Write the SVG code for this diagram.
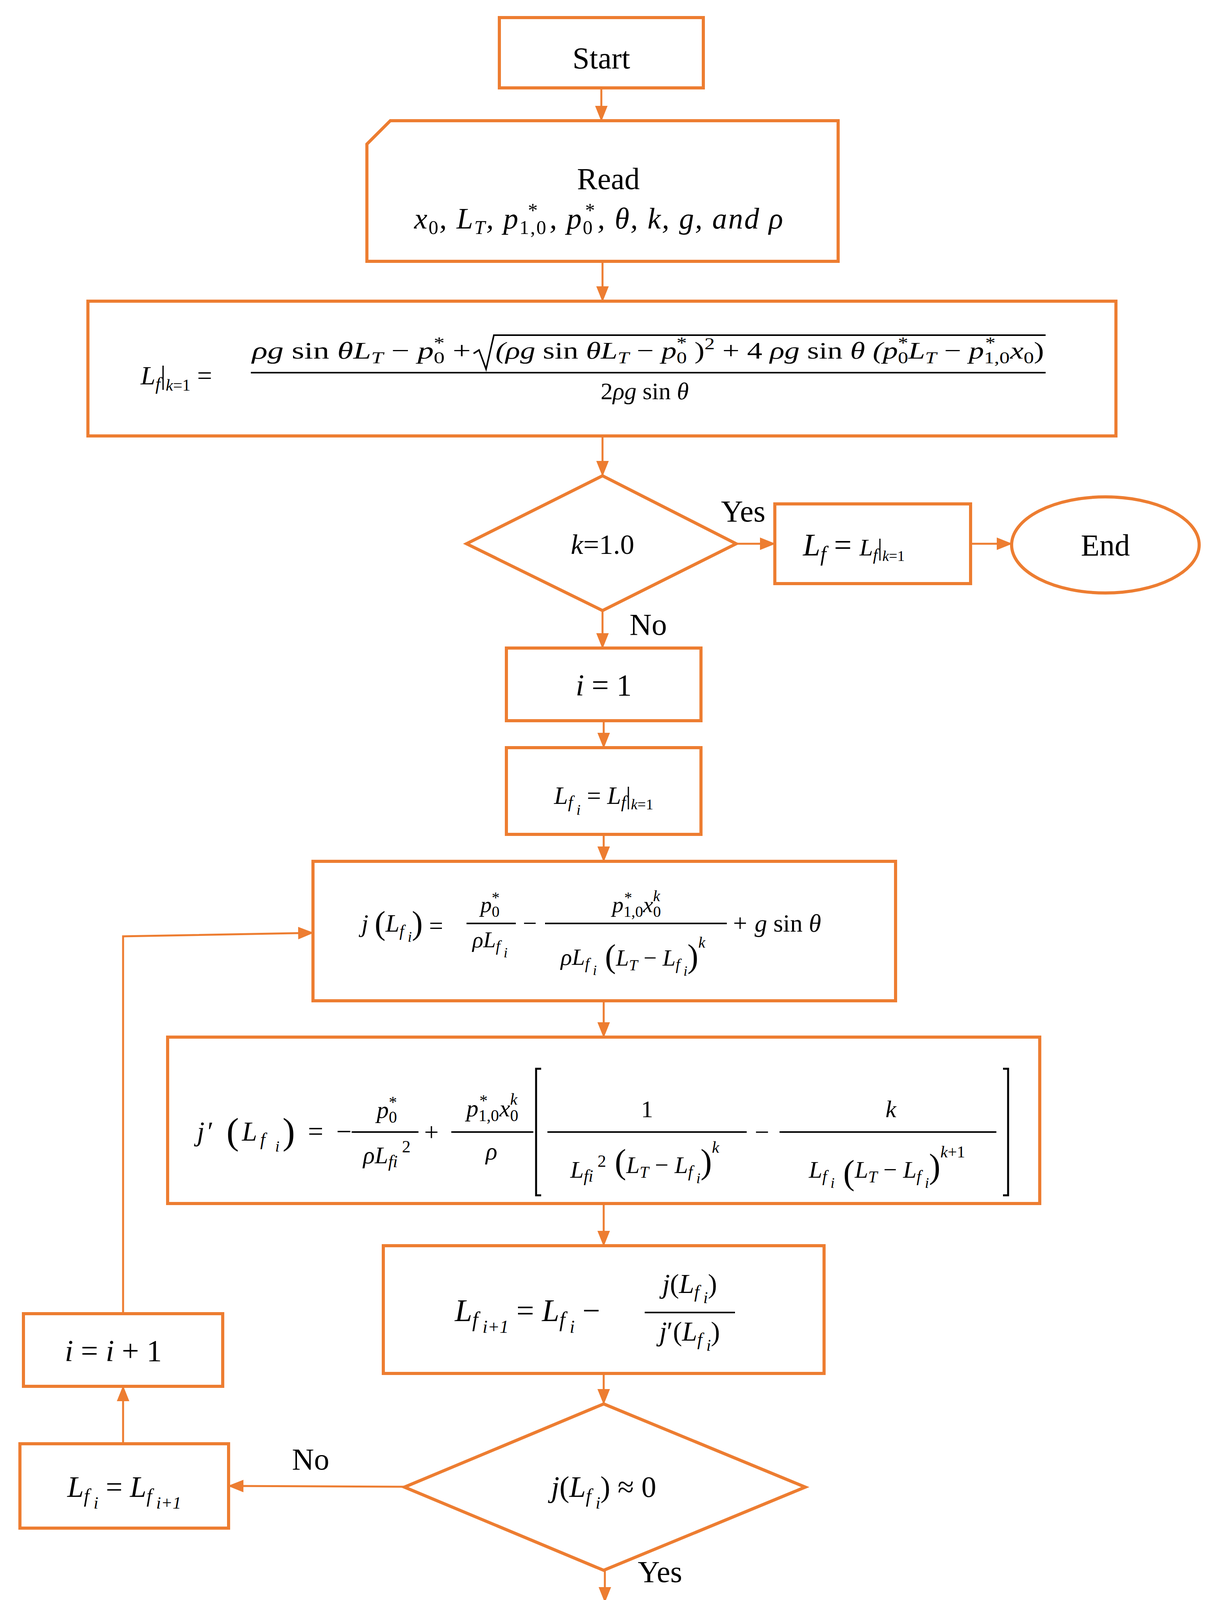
<svg xmlns="http://www.w3.org/2000/svg" width="3130" height="4725" viewBox="0 0 3130 4725">
<style>
.box{fill:#fff;stroke:#ED7D31;stroke-width:8}
.c{fill:none;stroke:#ED7D31;stroke-width:5}
.t{font-family:"Liberation Serif","DejaVu Serif",serif;font-size:78px;fill:#000}
.m{font-family:"Liberation Serif","DejaVu Serif",serif;font-style:italic;fill:#000}
.n{font-style:normal}
.fl{stroke:#000;stroke-width:4}
</style>
<defs>
<marker id="a" markerUnits="userSpaceOnUse" markerWidth="40" markerHeight="32" refX="38" refY="16" orient="auto">
<path d="M0,0 L40,16 L0,32 Z" fill="#ED7D31"/>
</marker>
</defs>
<rect x="0" y="0" width="3130" height="4725" fill="#fff"/>
<g id="connectors">
<line class="c" x1="1539" y1="225" x2="1539" y2="309" marker-end="url(#a)"/>
<line class="c" x1="1542" y1="669" x2="1542" y2="771" marker-end="url(#a)"/>
<line class="c" x1="1542" y1="1116" x2="1542" y2="1218" marker-end="url(#a)"/>
<line class="c" x1="1884" y1="1392" x2="1983" y2="1392" marker-end="url(#a)"/>
<line class="c" x1="2484" y1="1392" x2="2589" y2="1392" marker-end="url(#a)"/>
<line class="c" x1="1542" y1="1563" x2="1542" y2="1659" marker-end="url(#a)"/>
<line class="c" x1="1545" y1="1845" x2="1545" y2="1914" marker-end="url(#a)"/>
<line class="c" x1="1545" y1="2136" x2="1545" y2="2205" marker-end="url(#a)"/>
<line class="c" x1="1545" y1="2562" x2="1545" y2="2655" marker-end="url(#a)"/>
<line class="c" x1="1545" y1="3081" x2="1545" y2="3189" marker-end="url(#a)"/>
<line class="c" x1="1545" y1="3516" x2="1545" y2="3594" marker-end="url(#a)"/>
<line class="c" x1="1548" y1="4020" x2="1548" y2="4101" marker-end="url(#a)"/>
<line class="c" x1="1548" y1="4341" x2="1548" y2="4428" marker-end="url(#a)"/>
<line class="c" x1="1035" y1="3806" x2="585" y2="3804" marker-end="url(#a)"/>
<line class="c" x1="315" y1="3696" x2="315" y2="3549" marker-end="url(#a)"/>
<polyline class="c" points="315,3363 315,2397 801,2388" marker-end="url(#a)"/>
<text class="t" x="1902" y="1335" text-anchor="middle">Yes</text>
<text class="t" x="1659" y="1625" text-anchor="middle">No</text>
<text class="t" x="1689" y="4050" text-anchor="middle">Yes</text>
<text class="t" x="795" y="3762" text-anchor="middle">No</text>
</g>
<g id="start">
<rect class="box" x="1278" y="45" width="522" height="180"/>
<text class="t" x="1539" y="175" text-anchor="middle">Start</text>
</g>
<g id="read">
<path class="box" d="M999,309 L2145,309 L2145,669 L939,669 L939,369 Z"/>
<text class="t" x="1557" y="484" text-anchor="middle">Read</text>
<text class="m" font-size="76" x="1060" y="585" textLength="944" lengthAdjust="spacing">x<tspan font-size="50" dy="14" class="n">0</tspan><tspan dy="-14">, L</tspan><tspan font-size="50" dy="14">T</tspan><tspan dy="-14">, p</tspan><tspan font-size="50" dy="14" class="n">1,0</tspan><tspan font-size="50" dx="-52" dy="-44">*</tspan><tspan dy="30" dx="30">, p</tspan><tspan font-size="50" dy="14" class="n">0</tspan><tspan font-size="50" dx="-24" dy="-44">*</tspan><tspan dy="30" dx="6">, θ, k, g, and ρ</tspan></text>
</g>
<g id="lf-k1">
<rect class="box" x="225" y="771" width="2631" height="345"/>
<text class="m" font-size="68" x="360" y="984">L<tspan font-size="46" dy="14">f</tspan><tspan dy="-14" class="n">|</tspan><tspan font-size="42" dy="16">k</tspan><tspan font-size="42" class="n">=1</tspan><tspan dy="-16" class="n"> =</tspan></text>
<text class="m" font-size="62" x="645" y="918" textLength="560" lengthAdjust="spacingAndGlyphs">ρg <tspan class="n">sin</tspan> θL<tspan font-size="42" dy="12">T</tspan><tspan dy="-12" class="n"> − </tspan>p<tspan font-size="42" dy="12" class="n">0</tspan><tspan font-size="42" dx="-21" dy="-38" class="n">*</tspan><tspan dy="26" class="n">  +</tspan></text>
<path d="M1212,905 L1226,896 L1244,945 L1264,858 L2676,858" fill="none" stroke="#000" stroke-width="4"/>
<text class="m" font-size="62" x="1268" y="918" textLength="1404" lengthAdjust="spacingAndGlyphs">(ρg <tspan class="n">sin</tspan> θL<tspan font-size="42" dy="12">T</tspan><tspan dy="-12" class="n"> − </tspan>p<tspan font-size="42" dy="12" class="n">0</tspan><tspan font-size="42" dx="-21" dy="-38" class="n">*</tspan><tspan dy="26" class="n"> )</tspan><tspan font-size="42" dy="-24" class="n">2</tspan><tspan dy="24" class="n"> + 4 </tspan>ρg <tspan class="n">sin</tspan> θ  (p<tspan font-size="42" dy="12" class="n">0</tspan><tspan font-size="42" dx="-21" dy="-38" class="n">*</tspan><tspan dy="26">L</tspan><tspan font-size="42" dy="12">T</tspan><tspan dy="-12" class="n"> − </tspan>p<tspan font-size="42" dy="12" class="n">1,0</tspan><tspan font-size="42" dx="-50" dy="-38" class="n">*</tspan><tspan dy="26" dx="30">x</tspan><tspan font-size="42" dy="12" class="n">0</tspan><tspan dy="-12" class="n">)</tspan></text>
<line class="fl" x1="642" y1="954" x2="2676" y2="954"/>
<text class="m" font-size="62" x="1650" y="1022" text-anchor="middle"><tspan class="n">2</tspan>ρg <tspan class="n">sin</tspan> θ</text>
</g>
<g id="dec-k">
<polygon class="box" points="1542,1218 1884,1392 1542,1563 1194,1392"/>
<text class="m" font-size="72" x="1542" y="1418" text-anchor="middle">k<tspan class="n">=1.0</tspan></text>
</g>
<g id="lf-assign">
<rect class="box" x="1983" y="1290" width="501" height="204"/>
<text class="m" font-size="80" x="2055" y="1422">L<tspan font-size="54" dy="14">f</tspan><tspan dy="-14" class="n">  = </tspan><tspan font-size="62">L</tspan><tspan font-size="42" dy="12">f</tspan><tspan font-size="62" dy="-12" class="n">|</tspan><tspan font-size="38" dy="14">k</tspan><tspan font-size="38" class="n">=1</tspan></text>
</g>
<g id="end1">
<ellipse class="box" cx="2829" cy="1395" rx="240" ry="123"/>
<text class="t" x="2829" y="1422" text-anchor="middle">End</text>
</g>
<g id="i1">
<rect class="box" x="1296" y="1659" width="498" height="186"/>
<text class="m" font-size="78" x="1545" y="1780" text-anchor="middle">i <tspan class="n">= 1</tspan></text>
</g>
<g id="lfi-init">
<rect class="box" x="1296" y="1914" width="498" height="222"/>
<text class="m" font-size="64" x="1545" y="2058" text-anchor="middle">L<tspan font-size="44" dy="10">f</tspan><tspan font-size="38" dy="18"> i</tspan><tspan dy="-28" class="n"> = </tspan>L<tspan font-size="44" dy="10">f</tspan><tspan dy="-10" class="n">|</tspan><tspan font-size="38" dy="14">k</tspan><tspan font-size="38" class="n">=1</tspan></text>
</g>
<g id="j-func">
<rect class="box" x="801" y="2205" width="1491" height="357"/>
<text class="m" font-size="64" x="925" y="2385">j <tspan class="n" font-size="84" dy="6">(</tspan><tspan dy="-6">L</tspan><tspan font-size="42" dy="12">f</tspan><tspan font-size="38" dy="14"> i</tspan><tspan class="n" font-size="84" dy="-20">)</tspan><tspan class="n"> =</tspan></text>
<text class="m" font-size="58" x="1254" y="2335" text-anchor="middle">p<tspan font-size="40" dy="12" class="n">0</tspan><tspan font-size="40" dx="-20" dy="-36" class="n">*</tspan></text>
<line class="fl" x1="1194" y1="2364" x2="1320" y2="2364"/>
<text class="m" font-size="58" x="1254" y="2425" text-anchor="middle">ρL<tspan font-size="40" dy="10">f</tspan><tspan font-size="36" dy="16"> i</tspan></text>
<text class="m" font-size="64" x="1356" y="2385" text-anchor="middle"><tspan class="n">−</tspan></text>
<text class="m" font-size="58" x="1629" y="2335" text-anchor="middle">p<tspan font-size="40" dy="12" class="n">1,0</tspan><tspan font-size="40" dx="-48" dy="-36" class="n">*</tspan><tspan dy="24" dx="28">x</tspan><tspan font-size="40" dy="12" class="n">0</tspan><tspan font-size="40" dx="-20" dy="-40">k</tspan></text>
<line class="fl" x1="1395" y1="2364" x2="1860" y2="2364"/>
<text class="m" font-size="60" x="1620" y="2470" text-anchor="middle">ρL<tspan font-size="40" dy="10">f</tspan><tspan font-size="36" dy="16"> i</tspan><tspan class="n" font-size="84" dy="-20"> (</tspan><tspan dy="-4">L</tspan><tspan font-size="40" dy="12">T</tspan><tspan class="n" dy="-12"> − </tspan>L<tspan font-size="40" dy="10">f</tspan><tspan font-size="36" dy="16"> i</tspan><tspan class="n" font-size="84" dy="-22">)</tspan><tspan font-size="40" dy="-50">k</tspan></text>
<text class="m" font-size="64" x="1872" y="2385">+ g <tspan class="n">sin</tspan> θ</text>
</g>
<g id="jp-func">
<rect class="box" x="429" y="2655" width="2232" height="426"/>
<text class="m" font-size="70" x="504" y="2920" textLength="396" lengthAdjust="spacing">j<tspan class="n">′</tspan> <tspan class="n" font-size="96" dy="8">(</tspan><tspan dy="-8">L</tspan><tspan font-size="46" dy="12">f</tspan><tspan font-size="40" dy="16"> i</tspan><tspan class="n" font-size="96" dy="-20">)</tspan><tspan class="n" dy="-8"> = −</tspan></text>
<text class="m" font-size="62" x="990" y="2862" text-anchor="middle">p<tspan font-size="42" dy="12" class="n">0</tspan><tspan font-size="42" dx="-21" dy="-38" class="n">*</tspan></text>
<line class="fl" x1="900" y1="2898" x2="1071" y2="2898"/>
<text class="m" font-size="62" x="990" y="2978" text-anchor="middle">ρL<tspan font-size="44" dy="10">fi</tspan><tspan font-size="44" dy="-38" class="n"> 2</tspan></text>
<text class="m" font-size="66" x="1104" y="2920" text-anchor="middle"><tspan class="n">+</tspan></text>
<text class="m" font-size="62" x="1260" y="2858" text-anchor="middle">p<tspan font-size="42" dy="12" class="n">1,0</tspan><tspan font-size="42" dx="-50" dy="-38" class="n">*</tspan><tspan dy="26" dx="30">x</tspan><tspan font-size="42" dy="12" class="n">0</tspan><tspan font-size="42" dx="-21" dy="-42">k</tspan></text>
<line class="fl" x1="1155" y1="2898" x2="1365" y2="2898"/>
<text class="m" font-size="62" x="1258" y="2968" text-anchor="middle">ρ</text>
<path d="M1385,2736 L1372,2736 L1372,3060 L1385,3060 M2567,2736 L2580,2736 L2580,3060 L2567,3060" fill="none" stroke="#000" stroke-width="5"/>
<text class="m" font-size="62" x="1656" y="2860" text-anchor="middle"><tspan class="n">1</tspan></text>
<line class="fl" x1="1401" y1="2898" x2="1911" y2="2898"/>
<text class="m" font-size="62" x="1650" y="3015" text-anchor="middle">L<tspan font-size="44" dy="10">fi</tspan><tspan font-size="44" dy="-38" class="n"> 2</tspan><tspan class="n" font-size="88" dy="16"> (</tspan><tspan dy="0">L</tspan><tspan font-size="42" dy="12">T</tspan><tspan class="n" dy="-12"> − </tspan>L<tspan font-size="42" dy="10">f</tspan><tspan font-size="38" dy="16"> i</tspan><tspan class="n" font-size="88" dy="-26">)</tspan><tspan font-size="42" dy="-52">k</tspan></text>
<text class="m" font-size="66" x="1950" y="2920" text-anchor="middle"><tspan class="n">−</tspan></text>
<text class="m" font-size="62" x="2280" y="2860" text-anchor="middle">k</text>
<line class="fl" x1="1995" y1="2898" x2="2550" y2="2898"/>
<text class="m" font-size="62" x="2270" y="3015" text-anchor="middle">L<tspan font-size="42" dy="10">f</tspan><tspan font-size="38" dy="16"> i</tspan><tspan class="n" font-size="88" dy="-10"> (</tspan><tspan dy="-16">L</tspan><tspan font-size="42" dy="12">T</tspan><tspan class="n" dy="-12"> − </tspan>L<tspan font-size="42" dy="10">f</tspan><tspan font-size="38" dy="16"> i</tspan><tspan class="n" font-size="88" dy="-26">)</tspan><tspan font-size="42" dy="-52">k</tspan><tspan font-size="42" class="n">+1</tspan></text>
</g>
<g id="newton">
<rect class="box" x="981" y="3189" width="1128" height="327"/>
<text class="m" font-size="80" x="1164" y="3382">L<tspan font-size="54" dy="14">f</tspan><tspan font-size="46" dy="16"> i+1</tspan><tspan class="n" dy="-30"> = </tspan>L<tspan font-size="54" dy="14">f</tspan><tspan font-size="46" dy="16"> i</tspan><tspan class="n" dy="-30"> −</tspan></text>
<text class="m" font-size="70" x="1765" y="3310" text-anchor="middle">j<tspan class="n">(</tspan>L<tspan font-size="46" dy="12">f</tspan><tspan font-size="42" dy="14"> i</tspan><tspan class="n" dy="-26">)</tspan></text>
<line class="fl" x1="1650" y1="3360" x2="1881" y2="3360"/>
<text class="m" font-size="70" x="1765" y="3432" text-anchor="middle">j<tspan class="n">′(</tspan>L<tspan font-size="46" dy="12">f</tspan><tspan font-size="42" dy="14"> i</tspan><tspan class="n" dy="-26">)</tspan></text>
</g>
<g id="dec-j">
<polygon class="box" points="1545,3594 2061,3807 1545,4020 1035,3807"/>
<text class="m" font-size="76" x="1545" y="3832" text-anchor="middle">j<tspan class="n">(</tspan>L<tspan font-size="50" dy="14">f</tspan><tspan font-size="44" dy="16"> i</tspan><tspan class="n" dy="-30">) ≈ 0</tspan></text>
</g>
<g id="lf-final">
<rect class="box" x="1299" y="4101" width="501" height="240"/>
<text class="m" font-size="78" x="1548" y="4255" text-anchor="middle">L<tspan font-size="52" dy="14">f</tspan><tspan class="n" dy="-14">  = </tspan>L<tspan font-size="52" dy="14">f</tspan><tspan font-size="46" dy="16"> i+1</tspan></text>
</g>
<g id="end2">
<ellipse class="box" cx="1548" cy="4548" rx="240" ry="120"/>
<text class="t" x="1548" y="4575" text-anchor="middle">End</text>
</g>
<g id="lfi-update">
<rect class="box" x="51" y="3696" width="534" height="216"/>
<text class="m" font-size="76" x="318" y="3832" text-anchor="middle">L<tspan font-size="50" dy="14">f</tspan><tspan font-size="44" dy="16"> i</tspan><tspan class="n" dy="-30"> = </tspan>L<tspan font-size="50" dy="14">f</tspan><tspan font-size="44" dy="16"> i+1</tspan></text>
</g>
<g id="inc">
<rect class="box" x="60" y="3363" width="510" height="186"/>
<text class="m" font-size="78" x="290" y="3484" text-anchor="middle">i <tspan class="n">=</tspan> i <tspan class="n">+ 1</tspan></text>
</g>
</svg>
